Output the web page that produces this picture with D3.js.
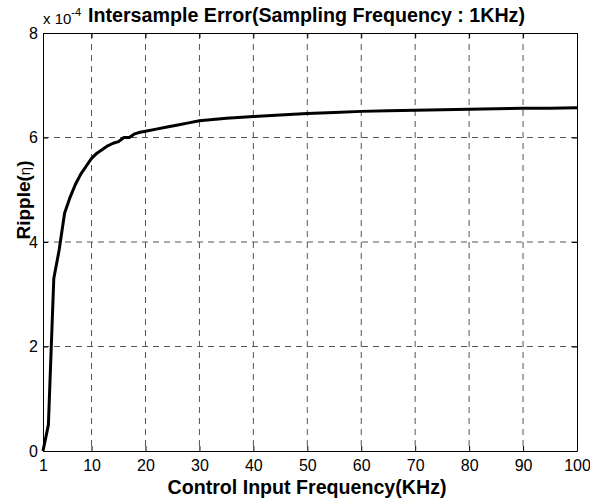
<!DOCTYPE html>
<html>
<head>
<meta charset="utf-8">
<script src="https://cdn.jsdelivr.net/npm/d3@7"></script>
<style>
  body { margin: 0; background: #fff; }
  svg { font-family: Arial, "Liberation Sans", sans-serif; }
</style>
</head>
<body>
<div id="chart"></div>
<script>
// Datos (eje y en unidades de 1e-4)
const freqs = [1, 2, 3, 4, 5, 6, 7, 8, 9, 10, 11, 12, 13, 14, 15, 16, 17, 18, 19, 20,
  22, 24, 26, 28, 30, 35, 40, 45, 50, 55, 60, 65, 70, 75, 80, 85, 90, 95, 100];
const ripple = [0, 0.5, 3.3, 3.85, 4.55, 4.85, 5.1, 5.3, 5.45, 5.6, 5.7, 5.77, 5.84, 5.89, 5.92, 6.0, 6.0, 6.07, 6.1, 6.12,
  6.16, 6.2, 6.24, 6.28, 6.32, 6.37, 6.4, 6.43, 6.46, 6.48, 6.5, 6.51, 6.52, 6.53, 6.54, 6.55, 6.56, 6.56, 6.57];
const xTicks = [1, 10, 20, 30, 40, 50, 60, 70, 80, 90, 100];
const yTicks = [0, 2, 4, 6, 8];

const W = 590, H = 504;
const margin = {top: 33, right: 13, bottom: 53, left: 43},
    width = W - margin.left - margin.right,
    height = H - margin.top - margin.bottom;

let svg = d3.select('#chart').append('svg')
    .attr('width', W).attr('height', H);

let g = svg.append('g')
    .attr('transform', 'translate(' + margin.left + ',' + margin.top + ')');

let x = d3.scaleLinear().domain([1, 100]).range([0, width]);
let y = d3.scaleLinear().domain([0, 8]).range([height, 0]);

//Rejilla
g.append('g').selectAll('line')
    .data(xTicks.filter(function(d) { return d > 1 && d < 100; }))
    .enter().append('line')
    .attr('x1', function(d) { return x(d); }).attr('x2', function(d) { return x(d); })
    .attr('y1', 0).attr('y2', height)
    .attr('stroke', '#555').attr('stroke-width', 1).attr('stroke-dasharray', '6,5');

g.append('g').selectAll('line')
    .data(yTicks.filter(function(d) { return d > 0 && d < 8; }))
    .enter().append('line')
    .attr('y1', function(d) { return y(d); }).attr('y2', function(d) { return y(d); })
    .attr('x1', 0).attr('x2', width)
    .attr('stroke', '#555').attr('stroke-width', 1).attr('stroke-dasharray', '6,5');

//Ejes
g.append('g')
    .attr('transform', 'translate(0,' + height + ')')
    .call(d3.axisBottom(x).tickValues(xTicks).tickSize(-5).tickPadding(9).tickSizeOuter(0));
g.append('g')
    .call(d3.axisLeft(y).tickValues(yTicks).tickSize(-5).tickPadding(5).tickSizeOuter(0));
g.append('g')
    .call(d3.axisTop(x).tickValues(xTicks).tickSize(-5).tickFormat('').tickSizeOuter(0));
g.append('g')
    .attr('transform', 'translate(' + width + ',0)')
    .call(d3.axisRight(y).tickValues(yTicks).tickSize(-5).tickFormat('').tickSizeOuter(0));

g.selectAll('.domain').attr('stroke', '#000');
g.selectAll('.tick line').attr('stroke', '#000');
g.selectAll('.tick text').attr('font-size', 16).attr('fill', '#000')
    .attr('font-family', 'Arial, "Liberation Sans", sans-serif');

//Curva
let line = d3.line()
    .x(function(d, i) { return x(freqs[i]); })
    .y(function(d) { return y(d); });

g.append('path')
    .datum(ripple)
    .attr('fill', 'none')
    .attr('stroke', '#000')
    .attr('stroke-width', 3)
    .attr('stroke-linejoin', 'round')
    .attr('d', line);

//Textos
svg.append('text')
    .attr('x', 88).attr('y', 22)
    .attr('font-size', 20).attr('font-weight', 'bold')
    .attr('textLength', 437).attr('lengthAdjust', 'spacingAndGlyphs')
    .text('Intersample Error(Sampling Frequency : 1KHz)');

let exp = svg.append('text')
    .attr('x', 43).attr('y', 24)
    .attr('font-size', 15);
exp.append('tspan').text('x 10');
exp.append('tspan').attr('dy', -8).attr('font-size', 11).text('-4');

svg.append('text')
    .attr('x', 307).attr('y', 494)
    .attr('text-anchor', 'middle')
    .attr('font-size', 20).attr('font-weight', 'bold')
    .attr('textLength', 279).attr('lengthAdjust', 'spacingAndGlyphs')
    .text('Control Input Frequency(KHz)');

let yl = svg.append('text')
    .attr('transform', 'translate(30,200) rotate(-90)')
    .attr('text-anchor', 'middle')
    .attr('font-size', 19).attr('font-weight', 'bold');
yl.append('tspan').text('Ripple(');
yl.append('tspan').attr('font-weight', 'normal').attr('font-size', 15).text('η');
yl.append('tspan').text(')');
</script>
</body>
</html>
